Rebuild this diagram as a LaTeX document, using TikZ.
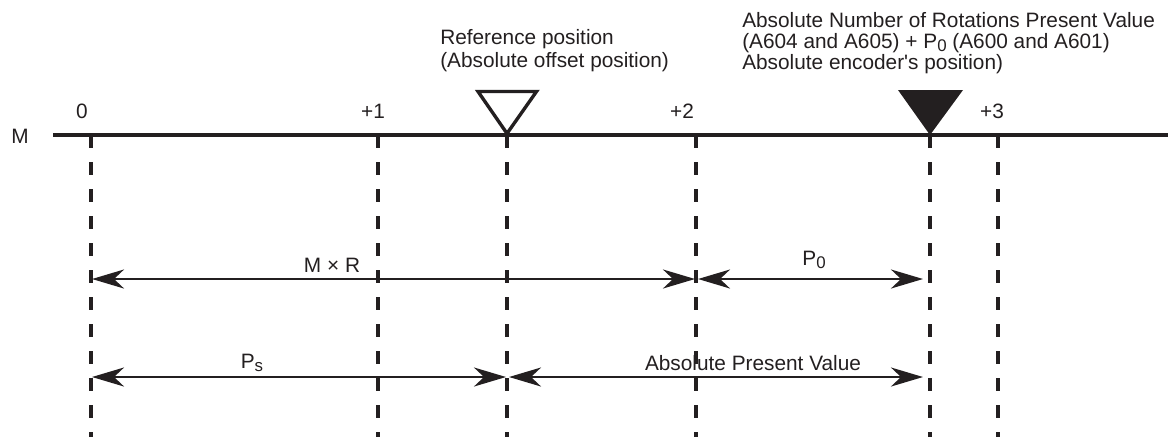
\documentclass[tikz,border=0pt]{standalone}
\usepackage{fontspec}
\setmainfont{Liberation Sans}
\usetikzlibrary{arrows.meta}
\definecolor{ink}{HTML}{231F20}
\newcommand{\lowsub}[1]{\raisebox{-0.15em}{\fontsize{12}{12}\selectfont #1}}
\newcommand{\tightlines}{\lineskiplimit=-8pt\relax}

\begin{document}
\begin{tikzpicture}[
          x=0.025cm, y=-0.025cm,
          every node/.style={text=ink, inner sep=0pt},
          lbl/.style={font=\fontsize{14.8}{16}\selectfont, anchor=base},
          note/.style={align=left, anchor=north west},
          axis/.style={draw=ink, line width=2.2pt},
          guide/.style={draw=ink, line width=2.5pt, dash pattern=on 0.325cm off 0.35cm},
          tri/.style={draw=ink, line width=2.4pt, fill=white},
          dim/.style={draw=ink, line width=1.9pt, <->, >={Stealth[length=0.8cm,width=0.475cm,inset=0.25cm]}}
      ]
        \useasboundingbox (0,0) rectangle (1168,437);
        % axis and guides
        \coordinate (axisL) at (53,135);
        \coordinate (axisR) at (1168,135);
        \draw[axis] (axisL) -- (axisR);
        \foreach \name/\x in {z0/91, z1/378, ref/507, z2/696, enc/930, z3/998} {
          \coordinate (\name) at (\x,135);
          \coordinate (\name-b) at (\x,437);
          \draw[guide] (\name) -- (\name-b);
        }
        \node[lbl] (mlbl) at (20,143) {M};
        \node[lbl] (n0) at (82,118) {0};
        \node[lbl] (n1) at (373,118) {+1};
        \node[lbl] (n2) at (682,118) {+2};
        \node[lbl] (n3) at (992,118) {+3};
        % markers
        \draw[tri] (478,91.5) -- (536.5,91.5) -- (507,133.5) -- cycle;
        \fill[ink] (898,90) -- (963,90) -- (enc) -- cycle;
        \node[note, font=\fontsize{14.8}{16}\selectfont\tightlines] (refnote) at (440,29.5)
          {Reference position\\(Absolute offset position)};
        \node[note, font=\fontsize{14.8}{14.9}\selectfont\tightlines] (encnote) at (742,11.8)
          {Absolute Number of Rotations Present Value\\(A604 and A605) + P\lowsub{0} (A600 and A601)\\Absolute encoder\textquotesingle s position)};
        % dimensions
        \coordinate (mr-l) at (92,279);
        \coordinate (mr-r) at (695,279);
        \coordinate (p0-l) at (698,279);
        \coordinate (p0-r) at (923,279);
        \coordinate (ps-l) at (92,377);
        \coordinate (ps-r) at (506,377);
        \coordinate (apv-l) at (509,377);
        \coordinate (apv-r) at (923,377);
        \draw[dim] (mr-l) -- (mr-r);
        \draw[dim] (p0-l) -- (p0-r);
        \draw[dim] (ps-l) -- (ps-r);
        \draw[dim] (apv-l) -- (apv-r);
        \node[lbl] (mxr) at (332,272) {M × R};
        \node[lbl] (p0) at (814,265) {P\lowsub{0}};
        \node[lbl] (ps) at (252,368) {P\lowsub{s}};
        \node[lbl] (apv) at (753,370) {Absolute Present Value};
      \end{tikzpicture}
\end{document}
